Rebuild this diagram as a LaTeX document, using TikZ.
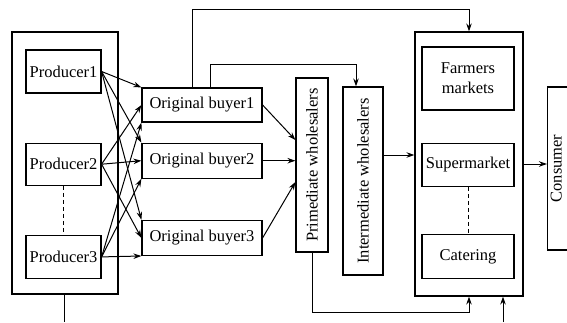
\documentclass[tikz,border=0pt]{standalone}
\usepackage{fontspec}
\newfontfamily\diagfont{Liberation Serif}
\usetikzlibrary{calc,positioning,arrows.meta}
\tikzset{
    blk/.style={draw, line width=1.2pt, inner sep=2pt, align=center, font=\diagfont\fontsize{16.5}{20}\selectfont},
    flow/.style={-{Stealth[length=8pt,width=5.5pt]}, line width=1pt},
    link/.style={line width=1pt},
    node distance=20pt
}
\begin{document}
\begin{tikzpicture}[x=1pt,y=-1pt]
			\useasboundingbox (0,0) rectangle (567,322);

			% producers
			\node[blk, minimum width=106, minimum height=262] (prod) at (65,163) {};
			\node[blk, minimum width=75, minimum height=43] (prod1) at (63.5,71.5) {Producer1};
			\node[blk, minimum width=75, minimum height=42, below=49pt of prod1] (prod2) {Producer2};
			\node[blk, minimum width=75, minimum height=43, below=49pt of prod2] (prod3) {Producer3};

			% buyers
			\node[blk, minimum width=120, minimum height=34] (buy1) at (202,105) {Original buyer1};
			\node[blk, minimum width=120, minimum height=35, below=20pt of buy1] (buy2) {Original buyer2};
			\node[blk, minimum width=120, minimum height=35, below=41pt of buy2] (buy3) {Original buyer3};

			% wholesalers
			\node[blk, minimum width=32, minimum height=174] (pw) at (312,165) {\rotatebox{90}{Primediate wholesalers}};
			\node[blk, minimum width=40, minimum height=188] (iw) at (363,181) {\rotatebox{90}{Intermediate wholesalers}};

			% retail
			\node[blk, minimum width=108, minimum height=264] (ret) at (469,164) {};
			\node[blk, minimum width=92, minimum height=63] (fm) at (468,78.5) {Farmers\\markets};
			\node[blk, minimum width=92, minimum height=43, below=32pt of fm] (sm) {Supermarket};
			\node[blk, minimum width=92, minimum height=44, below=47pt of sm] (cat) {Catering};

			\node[blk, anchor=west, minimum height=163, inner xsep=3pt] (cons) at (547,168.5) {\rotatebox{90}{Consumer}\hspace{30pt}};

			\coordinate (out1) at (64,322);
			\coordinate (in2) at (503,322);

			\foreach \b in {1,2,3} {
				\draw[flow] (prod1.east) -- (buy\b.north west);
				\draw[flow] (prod2.east) -- (buy\b.west);
				\draw[flow] (prod3.east) -- (buy\b.south west);
			}

			\draw[flow] (buy1.east) -- ($(pw.west)+(0,-25)$);
			\draw[flow] (buy2.east) -- (buy2.east -| pw.west);
			\draw[flow] (buy3.east) -- ($(pw.west)+(0,17)$);

			\draw[flow] ($(buy1.north)+(-10,0)$) |- ($(ret.north)+(0,-22)$) -- (ret.north);
			\draw[flow] ($(buy1.north)+(8,0)$) |- ($(iw.north)+(-7,-22)$) -- ($(iw.north)+(-7,0)$);
			\draw[flow] (pw.south) |- ($(ret.south)+(0,16)$) -- (ret.south);
			\draw[flow] (in2) -- (in2 |- ret.south);
			\draw[link] (prod.south -| out1) -- (out1);

			\draw[flow] ($(iw.east)+(0,-26)$) coordinate (a) -- (a -| ret.west);
			\draw[flow] (ret.east) -- (ret.east -| cons.west);

			\draw[link, dash pattern=on 4pt off 3pt] (prod2.south) -- (prod3.north);
			\draw[link, dash pattern=on 4pt off 3pt] (sm.south) -- (cat.north);
		\end{tikzpicture}
\end{document}
